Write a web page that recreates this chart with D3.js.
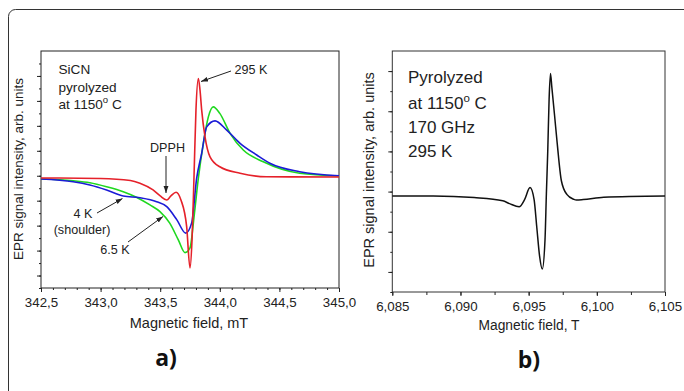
<!DOCTYPE html>
<html>
<head>
<meta charset="UTF-8" />
<title>EPR spectra SiCN</title>
<style>
  body { margin: 0; background: #fff; }
  svg { display: block; font-family: "Liberation Sans", Arial, sans-serif; }
  .axis path, .axis line { stroke: #222; }
  .axis text { font-size: 13.3px; fill: #222; }
</style>
</head>
<body>
<svg id="chart" width="684" height="391"></svg>
<script src="https://d3js.org/d3.v7.min.js"></script>
<script>
// panel a: X-band spectra, field in mT, signal in arb. units
const fieldTicksA = [342.5, 343.0, 343.5, 344.0, 344.5, 345.0];
const red295K = [
  [342.5, -0.09], [343.0, -0.11], [343.25, -0.19], [343.33, -0.3], [343.44, -0.57],
  [343.5, -0.81], [343.555, -0.97], [343.59, -0.81], [343.633, -0.66], [343.674, -0.97],
  [343.722, -2.04], [343.75, -3.7], [343.767, -2.57], [343.784, 0.03], [343.8, 2.63],
  [343.82, 3.9], [343.834, 3.43], [343.848, 2.63], [343.876, 1.56], [343.918, 0.76],
  [344.0, 0.36], [344.17, 0.1], [344.39, -0.04], [345.0, -0.05]
];
const blue4K = [
  [342.5, -0.13], [342.77, -0.24], [342.91, -0.37], [343.05, -0.57], [343.19, -0.81],
  [343.33, -0.88], [343.47, -1.04], [343.555, -1.24], [343.64, -1.77], [343.714, -2.3],
  [343.764, -1.89], [343.806, -0.1], [343.848, 0.9], [343.89, 1.96], [343.96, 2.2],
  [344.058, 1.83], [344.17, 1.3], [344.31, 0.83], [344.42, 0.5], [344.67, 0.16], [345.0, 0.0]
];
const green6K = [
  [342.5, -0.13], [342.77, -0.2], [342.91, -0.28], [343.05, -0.44], [343.19, -0.64],
  [343.3, -0.86], [343.414, -1.17], [343.498, -1.44], [343.58, -1.9], [343.652, -2.57],
  [343.708, -3.08], [343.75, -2.89], [343.785, -1.6], [343.82, -0.1], [343.862, 1.3],
  [343.904, 2.36], [343.945, 2.76], [344.0, 2.5], [344.086, 1.7], [344.197, 1.03],
  [344.365, 0.56], [344.67, 0.1], [345.0, -0.01]
];

// panel b: 170 GHz spectrum, field in T
const fieldTicksB = [6.085, 6.09, 6.095, 6.1, 6.105];
const black170GHz = [
  [6.085, -0.11], [6.088, -0.11], [6.091, -0.15], [6.0931, -0.23], [6.0936, -0.3],
  [6.0943, -0.38], [6.0947, -0.2], [6.0951, 0.1], [6.0954, -0.2], [6.0956, -0.9],
  [6.0958, -1.6], [6.096, -1.93], [6.0962, -1.2], [6.0963, -0.06], [6.0964, 1.0],
  [6.0965, 2.3], [6.0966, 2.94], [6.0967, 2.6], [6.0969, 1.9], [6.0971, 1.18],
  [6.0974, 0.27], [6.0978, -0.07], [6.0983, -0.19], [6.0985, -0.21], [6.099, -0.2],
  [6.1005, -0.14], [6.105, -0.11]
];

const svg = d3.select("#chart");
const fmt = d3.format(".1f");

// outer rounded frame (runs off the right and bottom edges)
svg.append("rect")
  .attr("x", 8.5).attr("y", 9.5).attr("width", 720).attr("height", 420)
  .attr("rx", 7).attr("fill", "none").attr("stroke", "#333").attr("stroke-width", 1);

svg.append("defs").append("marker")
  .attr("id", "arrow").attr("viewBox", "0 0 10 10")
  .attr("refX", 10).attr("refY", 5)
  .attr("markerWidth", 7).attr("markerHeight", 7)
  .attr("markerUnits", "userSpaceOnUse")
  .attr("orient", "auto")
  .append("path").attr("d", "M0,1.5L10,5L0,8.5Z").attr("fill", "#222");

// ---------- panel a ----------
const xA = d3.scaleLinear().domain([342.5, 345.0]).range([41, 339]);
const yA = d3.scaleLinear().domain([-4.5, 5]).range([288, 51]);
const gA = svg.append("g");

gA.append("rect")
  .attr("x", xA.range()[0]).attr("y", yA.range()[1])
  .attr("width", xA.range()[1] - xA.range()[0])
  .attr("height", yA.range()[0] - yA.range()[1])
  .attr("fill", "none").attr("stroke", "#222");

gA.append("g").attr("class", "axis")
  .attr("transform", `translate(0,${yA.range()[0]})`)
  .call(d3.axisBottom(xA).tickValues(d3.range(342.5, 345.01, 0.1)).tickSize(2).tickFormat(""))
  .call(g => g.select(".domain").remove());
gA.append("g").attr("class", "axis")
  .attr("transform", `translate(0,${yA.range()[0]})`)
  .call(d3.axisBottom(xA).tickValues(fieldTicksA).tickSize(4).tickPadding(6)
    .tickFormat(d => fmt(d).replace(".", ",")))
  .call(g => g.select(".domain").remove());
gA.append("g").attr("class", "axis")
  .attr("transform", `translate(${xA.range()[0]},0)`)
  .call(d3.axisLeft(yA).tickValues(d3.range(-4.5, 4.51, 0.5)).tickSize(2).tickFormat(""))
  .call(g => g.select(".domain").remove());
gA.append("g").attr("class", "axis")
  .attr("transform", `translate(${xA.range()[0]},0)`)
  .call(d3.axisLeft(yA).tickValues(d3.range(-4, 4.01, 1)).tickSize(4).tickFormat(""))
  .call(g => g.select(".domain").remove());

const lineA = d3.line().x(d => xA(d[0])).y(d => yA(d[1])).curve(d3.curveMonotoneX);
[[green6K, "#1fd81f"], [blue4K, "#1b1bd6"], [red295K, "#e5212a"]].forEach(([data, color]) => {
  gA.append("path").datum(data)
    .attr("d", lineA).attr("fill", "none")
    .attr("stroke", color).attr("stroke-width", 1.6);
});

gA.append("text").attr("x", 189).attr("y", 328).attr("text-anchor", "middle")
  .attr("font-size", 14.5).attr("fill", "#222").text("Magnetic field, mT");
gA.append("text").attr("transform", "translate(23,169) rotate(-90)")
  .attr("text-anchor", "middle").attr("font-size", 13.5).attr("fill", "#222")
  .text("EPR signal intensity, arb. units");

const noteA = gA.append("text").attr("font-size", 13.6).attr("fill", "#222");
noteA.append("tspan").attr("x", 58.5).attr("y", 74).text("SiCN");
noteA.append("tspan").attr("x", 58.5).attr("y", 91.5).text("pyrolyzed");
const l3 = noteA.append("tspan").attr("x", 58.5).attr("y", 109).text("at 1150");
noteA.append("tspan").attr("dy", -6).attr("font-size", 9.5).text("o");
noteA.append("tspan").attr("dy", 6).text(" C");

const smallText = (x, y, s, anchor) => gA.append("text").attr("x", x).attr("y", y)
  .attr("font-size", 12.6).attr("fill", "#222").attr("text-anchor", anchor || "start").text(s);
const arrow = (x1, y1, x2, y2) => gA.append("line")
  .attr("x1", x1).attr("y1", y1).attr("x2", x2).attr("y2", y2)
  .attr("stroke", "#222").attr("stroke-width", 1).attr("marker-end", "url(#arrow)");

smallText(234.5, 74, "295 K");
arrow(231, 71, 201, 81.5);
smallText(167.5, 152, "DPPH", "middle");
arrow(166, 156, 166, 193);
smallText(83, 218, "4 K", "middle");
smallText(82, 234, "(shoulder)", "middle");
arrow(97, 213, 122.5, 198.5);
smallText(115, 254, "6.5 K", "middle");
arrow(128, 242, 163, 216.5);

gA.append("text").attr("x", 166).attr("y", 366).attr("text-anchor", "middle")
  .attr("font-family", "'Open Sans', 'DejaVu Sans', sans-serif")
  .attr("font-weight", "bold").attr("font-size", 23).attr("fill", "#111").text("a)");

// ---------- panel b ----------
const xB = d3.scaleLinear().domain([6.085, 6.105]).range([392.3, 665]);
const yB = d3.scaleLinear().domain([-2.5, 3.5]).range([292, 51]);
const gB = svg.append("g");

gB.append("rect")
  .attr("x", xB.range()[0]).attr("y", yB.range()[1])
  .attr("width", xB.range()[1] - xB.range()[0])
  .attr("height", yB.range()[0] - yB.range()[1])
  .attr("fill", "none").attr("stroke", "#333");

gB.append("g").attr("class", "axis")
  .attr("transform", `translate(0,${yB.range()[0]})`)
  .call(d3.axisBottom(xB).tickValues(d3.range(6.085, 6.1051, 0.0025)).tickSize(3).tickFormat(""))
  .call(g => g.select(".domain").remove());
gB.append("g").attr("class", "axis")
  .attr("transform", `translate(0,${yB.range()[0]})`)
  .call(d3.axisBottom(xB).tickValues(fieldTicksB).tickSize(4).tickPadding(6)
    .tickFormat(d => d3.format(".3f")(d).replace(".", ",")))
  .call(g => g.select(".domain").remove())
  .call(g => g.selectAll("text").attr("font-size", 13.6));
gB.append("g").attr("class", "axis")
  .attr("transform", `translate(${xB.range()[0]},0)`)
  .call(d3.axisLeft(yB).tickValues(d3.range(-2.5, 3.01, 0.5)).tickSize(2).tickFormat(""))
  .call(g => g.select(".domain").remove());
gB.append("g").attr("class", "axis")
  .attr("transform", `translate(${xB.range()[0]},0)`)
  .call(d3.axisLeft(yB).tickValues(d3.range(-2, 3.01, 1)).tickSize(4).tickFormat(""))
  .call(g => g.select(".domain").remove());

const lineB = d3.line().x(d => xB(d[0])).y(d => yB(d[1])).curve(d3.curveMonotoneX);
gB.append("path").datum(black170GHz)
  .attr("d", lineB).attr("fill", "none")
  .attr("stroke", "#111").attr("stroke-width", 1.5);

gB.append("text").attr("x", 529).attr("y", 330).attr("text-anchor", "middle")
  .attr("font-size", 13.8).attr("fill", "#222").text("Magnetic field, T");
gB.append("text").attr("transform", "translate(374,170) rotate(-90)")
  .attr("text-anchor", "middle").attr("font-size", 14.5).attr("fill", "#222")
  .text("EPR signal intensity, arb. units");

const noteB = gB.append("text").attr("font-size", 17).attr("fill", "#222");
noteB.append("tspan").attr("x", 408).attr("y", 83).text("Pyrolyzed");
noteB.append("tspan").attr("x", 408).attr("y", 108.5).text("at 1150");
noteB.append("tspan").attr("dy", -7).attr("font-size", 11.5).text("o");
noteB.append("tspan").attr("dy", 7).text(" C");
noteB.append("tspan").attr("x", 408).attr("y", 133).text("170 GHz");
noteB.append("tspan").attr("x", 408).attr("y", 157).text("295 K");

gB.append("text").attr("x", 529).attr("y", 368).attr("text-anchor", "middle")
  .attr("font-family", "'Open Sans', 'DejaVu Sans', sans-serif")
  .attr("font-weight", "bold").attr("font-size", 23).attr("fill", "#111").text("b)");
</script>
</body>
</html>
